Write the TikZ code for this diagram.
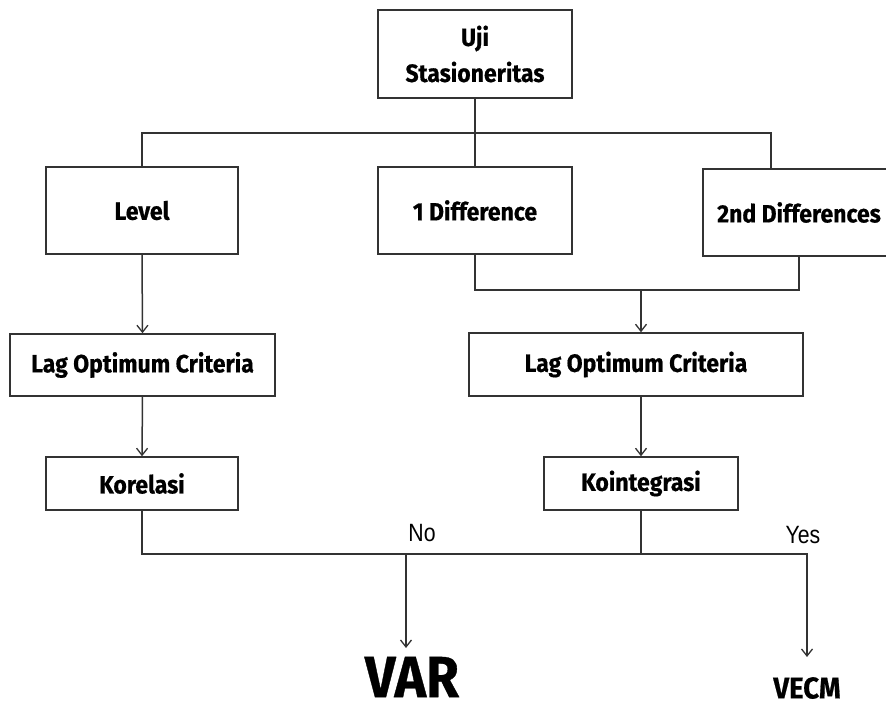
\documentclass[tikz,border=0pt]{standalone}
\usepackage{fontspec}
\setmainfont{Fira Sans}[FakeStretch=0.92,BoldFeatures={FakeBold=0.6}]
\newfontfamily\yesnofont{Liberation Sans}[FakeStretch=0.85]
\usetikzlibrary{arrows.meta}
\definecolor{linegray}{HTML}{333333}
\begin{document}
\begin{tikzpicture}[x=1pt,y=-1pt,
  box/.style={draw=linegray,line width=1.5pt,fill=white,inner sep=0pt,align=center,
    font=\fontsize{25}{36}\selectfont\bfseries},
  conn/.style={draw=linegray,line width=1.5pt},
  arr/.style={conn,-{Straight Barb[length=7pt,width=11pt,line width=1.3pt]}},
  lbl/.style={font=\yesnofont\fontsize{25}{25}\selectfont,inner sep=0pt}]
\useasboundingbox (0,0) rectangle (886,711);
% boxes
\node[box,minimum width=194pt,minimum height=88pt] (uji) at (475,54) {Uji\\Stasioneritas};
\node[box,minimum width=192pt,minimum height=87pt] (level) at (142,210.5) {Level};
\node[box,minimum width=194pt,minimum height=87pt] (diff1) at (475,210.5) {1 Difference};
\node[box,minimum width=192pt,minimum height=87pt] (diff2) at (799,212.5) {2nd Differences};
\node[box,minimum width=265pt,minimum height=62pt] (lag1) at (142.5,365) {Lag Optimum Criteria};
\node[box,minimum width=334pt,minimum height=63pt] (lag2) at (636,364.5) {Lag Optimum Criteria};
\node[box,minimum width=192pt,minimum height=53pt] (kor) at (142,483.5) {Korelasi};
\node[box,minimum width=194pt,minimum height=53pt] (koint) at (641,483.5) {Kointegrasi};
\node[inner sep=0pt,font=\fontsize{58}{58}\selectfont\bfseries] (var) at (412,677) {VAR};
\node[inner sep=0pt,font=\fontsize{30}{30}\selectfont\bfseries] (vecm) at (807,688) {VECM};
\node[lbl] (no) at (422,533) {No};
\node[lbl] (yes) at (803,535) {Yes};
% junction coordinates
\coordinate (t2) at (771,133);
\coordinate (m2) at (799,290);
\coordinate (j2) at (641,290);
\coordinate (jb) at (641,554);
\coordinate (nb) at (406,554);
\coordinate (varend) at (406,648);
\coordinate (vecmend) at (807,657);
% connectors
\draw[conn] (uji.south) -- (diff1.north);
\draw[conn] (level.north) |- (t2) -- (t2 |- diff2.north);
\draw[conn] (diff1.south) |- (m2) -- (diff2.south);
\draw[arr] (j2) -- (j2 |- lag2.north);
\draw[arr] (level.south) -- (lag1.north);
\draw[arr] (lag1.south) -- (kor.north);
\draw[arr] (lag2.south -| koint.north) -- (koint.north);
\draw[conn] (kor.south) |- (jb) -- (koint.south);
\draw[arr] (nb) -- (varend);
\draw[arr] (jb) -| (vecmend);
\end{tikzpicture}
\end{document}
